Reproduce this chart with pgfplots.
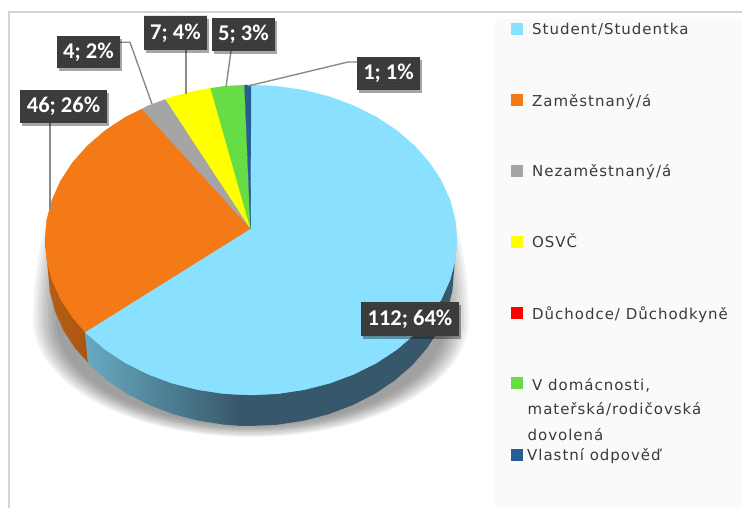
\documentclass[border=0pt]{standalone}
\usepackage{pgfplots}
\pgfplotsset{compat=1.18}
\usepackage{fontspec}
\usetikzlibrary{patterns,shadows}
\newfontfamily\labfont[BoldFont=Carlito Bold]{Carlito}
\newfontfamily\legfont[LetterSpace=6.5]{DejaVu Sans}
\definecolor{cstud}{HTML}{8AE1FF}
\definecolor{cempl}{HTML}{F37A16}
\definecolor{cunem}{HTML}{A5A5A5}
\definecolor{cself}{HTML}{FFFF00}
\definecolor{cpens}{HTML}{FF0000}
\definecolor{chome}{HTML}{66DD44}
\definecolor{cown}{HTML}{255E91}
\definecolor{boxc}{HTML}{3A3A3A}
\definecolor{boxd}{HTML}{555555}
\definecolor{leadc}{HTML}{8A8A8A}
\definecolor{framec}{HTML}{D4D4D4}
\definecolor{legtxt}{HTML}{3A3A3A}
\newcommand{\shl}[3]{\fill[black,opacity=.045] (axis cs:#1,320) arc[start angle=180,end angle=360,x radius=#2pt,y radius=#3pt] arc[start angle=0,end angle=180,x radius=#2pt,y radius=285pt] -- cycle;}
\tikzset{
  lab/.style={fill=boxc,postaction={pattern=dots,pattern color=boxd},
    general shadow={fill=black,opacity=.35,shadow xshift=2pt,shadow yshift=-3pt},
    text=white,inner sep=0pt,minimum height=33pt,
    font=\labfont\bfseries\fontsize{22.5}{25}\selectfont},
  leg/.style={anchor=base west,inner sep=0pt,text=legtxt,font=\legfont\fontsize{15}{18}\selectfont}
}
\begin{document}
\begin{tikzpicture}
\begin{axis}[
  scale only axis,width=742pt,height=508pt,
  xmin=0,xmax=742,ymin=0,ymax=508,y dir=reverse,
  hide axis,clip=true]
% background, frame and legend panel
\fill[white] (axis cs:0,0) rectangle (axis cs:742,508);
\fill[black!2] (axis cs:495,19) rectangle (axis cs:742,508);
\draw[framec,line width=2pt] (axis cs:9,508) -- (axis cs:9,12) -- (axis cs:742,12);
% soft shadow
\begin{scope}
\clip (axis cs:0,190) rectangle (axis cs:742,437);
\shl{33}{218}{117}
\shl{35.5}{215.5}{116}
\shl{38}{213}{115}
\shl{40.5}{210.5}{113.5}
\shl{43}{208}{112}
\shl{45.5}{205.5}{111}
\shl{48}{203}{110}
\shl{50.5}{200.5}{109}
\shl{53}{198}{107.5}
\shl{56}{195}{106}
\end{scope}
% side walls
\addplot[draw=none,left color=cempl!75!black!98,right color=cempl!70!black] coordinates {
 (45,240)(46.8,260.2)(52,280.1)(60.7,299.3)(72.6,317.5)(85,332)(88,362.5)(75.2,348.5)(63.4,330.3)(54.9,311.1)(49.7,291.2)(48,271)(45,240)};
\addplot[draw=none,left color={rgb,255:red,104;green,170;blue,194},right color={rgb,255:red,55;green,88;blue,106}] coordinates {
 (85,332)(87.6,334.4)(105.3,349.6)(125.6,363)(148,374.2)(172.2,383.2)(197.7,389.7)(224.1,393.7)(240,394.8)
 (240,425.8)(224.5,424.7)(198.5,420.7)(173.3,414.2)(149.5,405.2)(127.4,394)(107.5,380.6)(89.9,365.4)(88,362.5)};
\addplot[draw=none,fill={rgb,255:red,55;green,88;blue,106}] coordinates {
 (457,240)(455.2,260.2)(450,280.1)(441.3,299.3)(429.4,317.5)(414.4,334.4)(396.7,349.6)(376.4,363)(354,374.2)(329.8,383.2)(304.3,389.7)(277.9,393.7)(251,395)(238,394.8)
 (238,425.8)(251,426)(277.5,424.7)(303.5,420.7)(328.7,414.2)(352.5,405.2)(374.6,394)(394.5,380.6)(412.1,365.4)(426.8,348.5)(438.6,330.3)(447.1,311.1)(452.3,291.2)(454,271)};
% top faces
\addplot[draw=cstud,line width=.3pt,fill=cstud] coordinates {
 (250.5,228.5)(251,85)(277.9,86.3)(304.3,90.3)(329.8,96.8)(354,105.8)(376.4,117)(396.7,130.4)(414.4,145.6)(429.4,162.5)(441.3,180.7)(450,199.9)(455.2,219.8)(457,240)
 (455.2,260.2)(450,280.1)(441.3,299.3)(429.4,317.5)(414.4,334.4)(396.7,349.6)(376.4,363)(354,374.2)(329.8,383.2)(304.3,389.7)(277.9,393.7)(251,395)
 (224.1,393.7)(197.7,389.7)(172.2,383.2)(148,374.2)(125.6,363)(105.3,349.6)(87.6,334.4)(85,332)(250.5,228.5)};
\addplot[draw=cempl,line width=.3pt,fill=cempl] coordinates {
 (250.5,228.5)(85,332)(72.6,317.5)(60.7,299.3)(52,280.1)(46.8,260.2)(45,240)(46.8,219.8)(52,199.9)(60.7,180.7)(72.6,162.5)(87.6,145.6)(105.3,130.4)(125.6,117)(142,109)(250.5,228.5)};
\addplot[draw=cunem,line width=.3pt,fill=cunem] coordinates {
 (250.5,228.5)(142,109)(148,105.8)(165.7,99.3)(250.5,228.5)};
\addplot[draw=cself,line width=.3pt,fill=cself] coordinates {
 (250.5,228.5)(165.7,99.3)(172.2,96.8)(197.7,90.3)(210.7,88.3)(250.5,228.5)};
\addplot[draw=chome,line width=.3pt,fill=chome] coordinates {
 (250.5,228.5)(210.7,88.3)(224.1,86.3)(244.5,85.1)(250.5,228.5)};
\addplot[draw=cown,line width=.3pt,fill=cown] coordinates {
 (250.5,228.5)(244.5,85.1)(251,85)(250.5,228.5)};
% leader lines
\addplot[leadc,line width=1.4pt] coordinates {(50,123)(50,209)};
\addplot[leadc,line width=1.4pt] coordinates {(120,42.3)(130,42.3)(152,104)};
\addplot[leadc,line width=1.4pt] coordinates {(186,50)(186,94)};
\addplot[leadc,line width=1.4pt] coordinates {(231,51)(226,87)};
\addplot[leadc,line width=1.4pt] coordinates {(357,62)(348,62)(248,86)};
% data labels
\node[lab,minimum width=87pt] at (axis cs:63.5,106.5) {46; 26\%};
\node[lab,minimum width=63pt,minimum height=32pt] at (axis cs:88.5,52) {4; 2\%};
\node[lab,minimum width=63pt,minimum height=34pt] at (axis cs:175.5,33) {7; 4\%};
\node[lab,minimum width=63pt] at (axis cs:243.5,34.5) {5; 3\%};
\node[lab,minimum width=63pt] at (axis cs:388.5,73.5) {1; 1\%};
\node[lab,minimum width=98pt,minimum height=34pt] at (axis cs:410,319) {112; 64\%};
% legend
\addplot[only marks,mark=square*,mark size=5.5pt,mark options={draw=cstud,fill=cstud}] coordinates {(516.5,29)};
\addplot[only marks,mark=square*,mark size=5.5pt,mark options={draw=cempl,fill=cempl}] coordinates {(516.5,100)};
\addplot[only marks,mark=square*,mark size=5.5pt,mark options={draw=cunem,fill=cunem}] coordinates {(516.5,171)};
\addplot[only marks,mark=square*,mark size=5.5pt,mark options={draw=cself,fill=cself}] coordinates {(516.5,242)};
\addplot[only marks,mark=square*,mark size=5.5pt,mark options={draw=cpens,fill=cpens}] coordinates {(516.5,313)};
\addplot[only marks,mark=square*,mark size=5.5pt,mark options={draw=chome,fill=chome}] coordinates {(516.5,383)};
\addplot[only marks,mark=square*,mark size=5.5pt,mark options={draw=cown,fill=cown}] coordinates {(516.5,455)};
\node[leg] at (axis cs:532,35) {Student/Studentka};
\node[leg] at (axis cs:532,106.7) {Zaměstnaný/á};
\node[leg] at (axis cs:532,177) {Nezaměstnaný/á};
\node[leg] at (axis cs:532,247.7) {OSVČ};
\node[leg] at (axis cs:532,319.3) {Důchodce/ Důchodkyně};
\node[leg] at (axis cs:532,390) {V domácnosti,};
\node[leg] at (axis cs:527.5,414.3) {mateřská/rodičovská};
\node[leg] at (axis cs:527.5,440) {dovolená};
\node[leg] at (axis cs:527,460.7) {Vlastní odpověď};
\end{axis}
\end{tikzpicture}
\end{document}
